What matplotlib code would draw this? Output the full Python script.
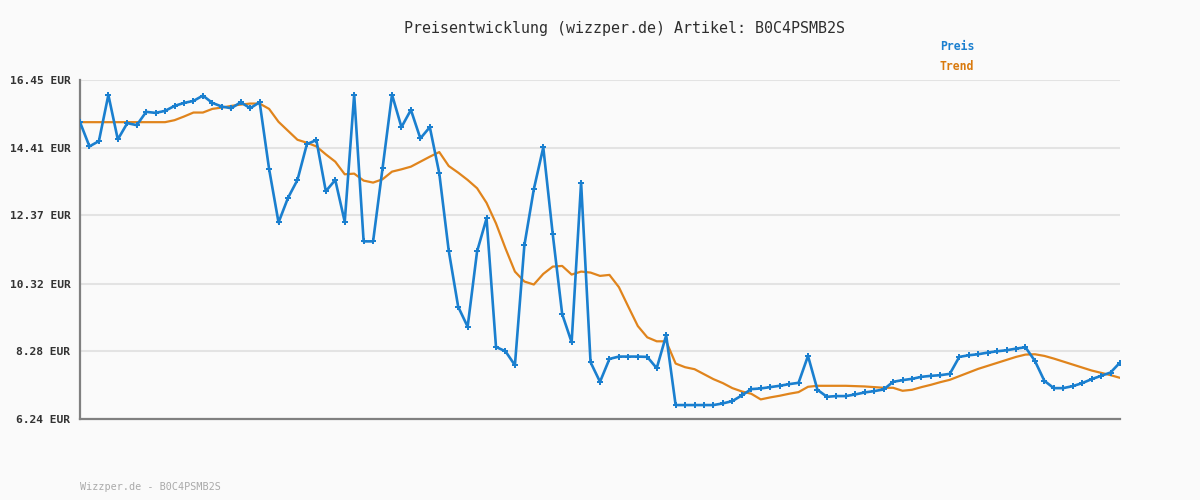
#!/usr/bin/env python3

# Price history chart (wizzper.de style) for article B0C4PSMB2S

import numpy as np
import matplotlib
matplotlib.use('Agg')
import matplotlib.pyplot as plt

# Data
preis = [15.18, 14.45, 14.61, 16.00, 14.66, 15.15, 15.09, 15.49, 15.46, 15.52,
	15.67, 15.76, 15.82, 15.98, 15.76, 15.65, 15.60, 15.78, 15.60, 15.78,
	13.77, 12.16, 12.90, 13.44, 14.52, 14.64, 13.10, 13.44, 12.18, 16.01,
	11.59, 11.59, 13.79, 16.01, 15.03, 15.55, 14.69, 15.03, 13.64, 11.31,
	9.62, 9.02, 11.29, 12.28, 8.41, 8.28, 7.86, 11.47, 13.16, 14.42,
	11.81, 9.40, 8.55, 13.36, 7.95, 7.36, 8.05, 8.12, 8.12, 8.12,
	8.11, 7.77, 8.76, 6.66, 6.66, 6.66, 6.66, 6.66, 6.71, 6.78,
	6.95, 7.14, 7.16, 7.20, 7.24, 7.29, 7.33, 8.14, 7.12, 6.91,
	6.93, 6.93, 6.98, 7.04, 7.08, 7.13, 7.36, 7.41, 7.45, 7.51,
	7.54, 7.56, 7.60, 8.11, 8.16, 8.19, 8.24, 8.28, 8.31, 8.36,
	8.40, 7.99, 7.39, 7.17, 7.17, 7.23, 7.32, 7.44, 7.54, 7.64,
	7.94]

trend = [15.18, 15.18, 15.18, 15.18, 15.18, 15.18, 15.18, 15.18, 15.18, 15.18,
	15.24, 15.35, 15.47, 15.47, 15.58, 15.62, 15.67, 15.71, 15.74, 15.74,
	15.58, 15.19, 14.92, 14.65, 14.56, 14.45, 14.21, 13.99, 13.61, 13.63,
	13.42, 13.36, 13.46, 13.69, 13.76, 13.84, 13.99, 14.14, 14.28, 13.86,
	13.66, 13.44, 13.19, 12.75, 12.13, 11.38, 10.68, 10.38, 10.29, 10.61,
	10.83, 10.85, 10.59, 10.68, 10.65, 10.55, 10.58, 10.21, 9.62, 9.04,
	8.70, 8.58, 8.58, 7.91, 7.80, 7.74, 7.59, 7.44, 7.32, 7.17,
	7.07, 7.00, 6.83, 6.89, 6.94, 7.00, 7.05, 7.21, 7.24, 7.24,
	7.24, 7.24, 7.23, 7.22, 7.20, 7.18, 7.18, 7.09, 7.12, 7.20,
	7.27, 7.35, 7.42, 7.53, 7.64, 7.75, 7.84, 7.93, 8.02, 8.11,
	8.18, 8.19, 8.14, 8.06, 7.97, 7.88, 7.79, 7.70, 7.63, 7.56,
	7.48]

yticks = [6.24, 8.28, 10.32, 12.37, 14.41, 16.45]
ylabels = ['%.2f EUR' % v for v in yticks]
artikel = 'B0C4PSMB2S'

# Colours
bg = '#fafafa'
c_preis = '#1a7fcf'
c_trend = '#e0841c'

fig = plt.figure(figsize=(12, 5), dpi=100, facecolor=bg)
ax = fig.add_axes([80/1200, 81/500, 1040/1200, 339/500])
ax.set_facecolor(bg)

x = np.arange(len(preis))
ax.plot(x, trend, color=c_trend, linewidth=1.6, zorder=3)
ax.plot(x, preis, color=c_preis, linewidth=1.9, marker='P', markersize=4,
	markeredgewidth=0, zorder=4)

ax.set_xlim(0, len(preis) - 1)
ax.set_ylim(yticks[0], yticks[-1])
ax.set_yticks(yticks)
ax.set_yticklabels(ylabels, fontfamily='DejaVu Sans Mono', fontweight='bold',
	fontsize=8.1, color='#333333')
ax.set_xticks([])
ax.tick_params(axis='y', length=0, pad=7)
ax.grid(axis='y', color='#e3e3e3', linewidth=1.5, zorder=0)

for side in ['top', 'right']:
	ax.spines[side].set_visible(False)
for side in ['left', 'bottom']:
	ax.spines[side].set_color('#808080')
	ax.spines[side].set_linewidth(1.6)

# Title, legend, footer
fig.text(624/1200, 1 - 28/500, 'Preisentwicklung (wizzper.de) Artikel: ' + artikel,
	ha='center', va='center', fontfamily='DejaVu Sans Mono', fontsize=10.8,
	color='#2e2e2e')
fig.text(940/1200, 1 - 47/500, 'Preis', ha='left', va='center',
	fontfamily='DejaVu Sans Mono', fontweight='bold', fontsize=8.3, color=c_preis)
fig.text(940/1200, 1 - 67/500, 'Trend', ha='left', va='center',
	fontfamily='DejaVu Sans Mono', fontweight='bold', fontsize=8.3, color='#d97a0e')
fig.text(80/1200, 1 - 487/500, 'Wizzper.de - ' + artikel, ha='left', va='center',
	fontfamily='DejaVu Sans Mono', fontsize=7.3, color='#aaaaaa')

fig.savefig('out.png', dpi=100, facecolor=bg)
